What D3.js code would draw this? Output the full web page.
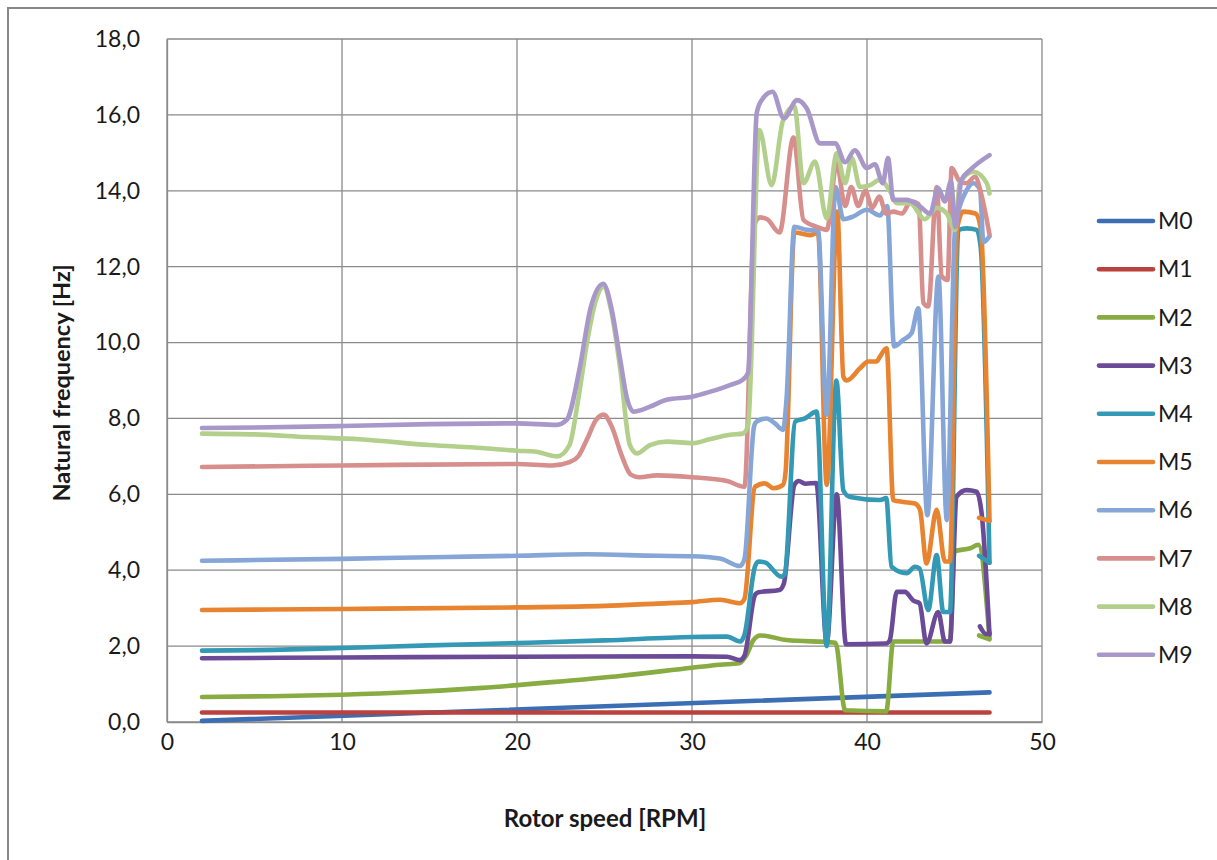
<!DOCTYPE html>
<html>
<head>
<meta charset="utf-8">
<script src="https://cdn.jsdelivr.net/npm/d3@7"></script>
<style>
  body { margin: 0; background: #fff; }
  svg { display: block; font-family: Lato, "Open Sans", sans-serif; }
</style>
</head>
<body>
<div id="graphic"></div>
<script>
// Natural frequency [Hz] vs rotor speed [RPM], points as [rpm, Hz]
const M0 = [[2,0.03],[47,0.78]];
const M1 = [[2,0.25],[47,0.25]];
const M2 = [[2,0.66],[6,0.68],[10,0.72],[14,0.79],[18,0.9],[22,1.05],[26,1.22],[30,1.43],[31.6,1.51],[32.7,1.55],
  [33.1,1.75],[33.5,2.15],[33.9,2.28],[35.4,2.16],[38.2,2.09],[38.75,0.31],[41.1,0.28],[41.5,2.12],[44.74,2.12],
  [45.0,4.5],[45.9,4.58],[46.36,4.67],[47,2.2]];
const M3 = [[2,1.68],[10,1.7],[20,1.72],[30,1.73],[32,1.72],[32.74,1.63],[33.0,1.75],[33.6,3.35],[33.8,3.42],[35.0,3.48],
  [35.25,3.65],[35.85,6.25],[36.1,6.35],[36.5,6.28],[37.1,6.3],[37.7,2.1],[38.27,6.0],[38.8,2.05],[41.1,2.07],[41.3,2.15],
  [41.7,3.43],[42.17,3.43],[42.65,3.2],[43.0,3.13],[43.4,2.07],[44.07,2.9],[44.45,2.12],[44.74,2.12],[45.12,5.94],
  [45.69,6.11],[46.26,6.07],[46.55,5.5],[47,2.3]];
const M4 = [[2,1.88],[6,1.9],[10,1.95],[15,2.02],[20,2.08],[25,2.15],[30,2.24],[32,2.25],[32.74,2.12],[33.0,2.3],
  [33.6,4.1],[33.8,4.23],[34.2,4.2],[35.1,3.83],[35.3,3.9],[35.9,7.92],[36.46,8.0],[37.12,8.18],[37.7,2.0],[38.25,9.0],
  [38.65,6.1],[39.03,5.93],[40.74,5.85],[41.1,5.9],[41.4,4.09],[42.27,3.92],[42.74,4.09],[43.0,4.05],[43.5,2.95],
  [43.98,4.4],[44.36,2.9],[44.74,2.9],[45.22,12.97],[45.7,13.01],[46.27,12.97],[46.5,12.5],[47,4.2]];
const M5 = [[2,2.95],[10,2.98],[20,3.02],[25,3.06],[28,3.12],[30,3.16],[31.6,3.22],[32.74,3.13],[33.0,3.25],[33.6,6.2],
  [34.17,6.29],[34.65,6.16],[35.2,6.25],[35.35,6.6],[35.85,12.9],[36.75,12.83],[37.2,12.9],[37.7,6.25],[38.3,13.45],
  [38.65,9.1],[38.84,9.0],[39.6,9.32],[40.07,9.5],[40.55,9.5],[40.74,9.63],[41.12,9.85],[41.5,5.85],[42.07,5.8],
  [42.74,5.76],[43.03,5.59],[43.4,4.18],[43.98,5.59],[44.45,4.23],[44.74,4.23],[45.15,13.0],[45.5,13.45],[46.2,13.4],
  [46.5,13.0],[47,5.3]];
const M6 = [[2,4.25],[10,4.3],[16,4.35],[20,4.38],[24,4.42],[28,4.38],[30,4.37],[31.6,4.31],[32.74,4.11],[33.0,4.3],
  [33.55,7.8],[33.7,7.92],[34.27,8.0],[34.74,7.87],[35.2,7.7],[35.4,8.5],[35.85,13.05],[36.55,12.97],[37.2,12.95],
  [37.7,8.1],[38.2,14.1],[38.65,13.25],[39.2,13.32],[40.0,13.5],[40.74,13.35],[41.15,13.6],[41.55,9.9],[42.07,10.07],
  [42.55,10.25],[42.93,10.9],[43.45,5.45],[44.08,11.74],[44.56,5.32],[45.03,12.97],[45.7,14.02],[46.08,14.2],
  [46.46,14.02],[46.65,12.65],[47,12.8]];
const M7 = [[2,6.72],[10,6.76],[20,6.8],[22,6.76],[23,6.85],[23.5,7.0],[24,7.45],[24.5,7.95],[24.95,8.1],[25.4,7.8],
  [26,7.0],[26.5,6.52],[27,6.45],[28,6.5],[30,6.45],[32,6.35],[33.0,6.2],[33.55,13.1],[33.9,13.3],[34.3,13.25],
  [35.0,12.9],[35.8,15.4],[36.37,13.23],[37.13,13.05],[37.7,12.97],[38.27,14.72],[38.75,13.6],[39.1,14.1],[39.5,13.6],
  [39.9,14.0],[40.3,13.55],[40.7,13.85],[41.1,13.4],[41.5,13.45],[42,13.4],[42.5,13.72],[42.95,13.65],[43.22,11.05],
  [43.5,10.95],[43.98,14.1],[44.27,11.75],[44.6,11.65],[44.84,14.6],[45.3,14.25],[45.7,14.2],[46.17,14.37],
  [46.56,13.85],[47,12.85]];
const M8 = [[2,7.6],[5,7.58],[8,7.51],[11,7.45],[15,7.3],[18,7.22],[20,7.15],[21,7.13],[22.3,7.0],[23.0,7.3],[23.5,8.5],
  [24,10.0],[24.5,11.1],[24.95,11.47],[25.4,10.8],[25.9,9.3],[26.45,7.3],[26.85,7.08],[27.6,7.3],[28.55,7.39],
  [30.07,7.35],[31,7.45],[32.17,7.57],[32.9,7.6],[33.2,7.8],[33.85,15.6],[34.55,14.15],[35.2,15.85],[35.85,16.22],
  [36.37,14.2],[37.03,14.77],[37.7,13.27],[38.27,14.99],[38.75,14.2],[39.13,14.86],[39.6,14.1],[40.18,14.15],
  [40.74,14.29],[41.3,14.0],[41.7,13.67],[42.46,13.67],[43.3,13.25],[43.98,13.55],[44.56,13.4],[45.03,12.97],
  [45.3,14.2],[46.08,14.5],[46.84,14.2],[47,13.93]];
const M9 = [[2,7.75],[5,7.76],[10,7.8],[15,7.85],[20,7.87],[22.27,7.83],[22.84,7.96],[23.6,9.37],[24.2,10.9],
  [24.93,11.55],[25.4,10.9],[25.9,9.54],[26.3,8.5],[26.65,8.18],[27.6,8.31],[28.55,8.49],[30.07,8.58],[31,8.7],
  [32.17,8.88],[32.9,9.02],[33.2,9.2],[33.7,16.05],[34.0,16.4],[34.6,16.61],[35.25,15.91],[36.0,16.39],[36.56,16.17],
  [37.32,15.25],[38.18,15.25],[38.75,14.75],[39.3,15.07],[40.0,14.6],[40.45,14.7],[40.9,14.2],[41.2,14.86],
  [41.5,13.76],[42.26,13.76],[43.0,13.6],[43.6,13.4],[44.07,14.07],[44.45,13.72],[44.8,14.25],[45.05,13.05],
  [45.4,14.29],[45.9,14.55],[47,14.94]];

// short end pieces that the spreadsheet drew after the last point
const M2tail = [[46.4,2.28],[47,2.18]];
const M3tail = [[46.45,2.52],[46.8,2.32],[47,2.34]];
const M4tail = [[46.4,4.38],[47,4.2]];
const M5tail = [[46.4,5.38],[47,5.3]];

const seriesNames = ["M0","M1","M2","M3","M4","M5","M6","M7","M8","M9"];
const seriesData = [M0, M1, M2, M3, M4, M5, M6, M7, M8, M9];
const seriesColors = ["#3c6eb4","#b9413e","#88ac42","#6b4b98","#3399b5","#e8832f","#86a6d8","#d78f8d","#b3cf8c","#a897c9"];
const tails = [{data: M2tail, s: 2}, {data: M3tail, s: 3}, {data: M4tail, s: 4}, {data: M5tail, s: 5}];

const xTicks = [0, 10, 20, 30, 40, 50];
const yTicks = [0, 2, 4, 6, 8, 10, 12, 14, 16, 18];

// graphic size and plot area
const graphicWidth = 1217;
const graphicHeight = 860;
const plot = {left: 167, top: 39, right: 1042, bottom: 722};

const svg = d3.select("#graphic")
    .append("svg")
    .attr("width", graphicWidth)
    .attr("height", graphicHeight);

// outer chart border
svg.append("rect")
    .attr("x", 8).attr("y", 8)
    .attr("width", 1300).attr("height", 900)
    .attr("fill", "none")
    .attr("stroke", "#878787")
    .attr("stroke-width", 2);

const x = d3.scaleLinear().domain([0, 50]).range([plot.left, plot.right]);
const y = d3.scaleLinear().domain([0, 18]).range([plot.bottom, plot.top]);

const comma = d3.formatLocale({decimal: ",", thousands: ".", grouping: [3], currency: ["", ""]});

// gridlines
svg.append("g")
    .selectAll("line")
    .data(yTicks)
    .join("line")
    .attr("x1", plot.left).attr("x2", plot.right)
    .attr("y1", d => y(d)).attr("y2", d => y(d))
    .attr("stroke", "#8a8a8a").attr("stroke-width", 1.3);
svg.append("g")
    .selectAll("line")
    .data(xTicks)
    .join("line")
    .attr("x1", d => x(d)).attr("x2", d => x(d))
    .attr("y1", plot.top).attr("y2", plot.bottom)
    .attr("stroke", "#8a8a8a").attr("stroke-width", 1.3);

// axes
const yAxis = svg.append("g")
    .attr("transform", "translate(" + plot.left + ",0)")
    .call(d3.axisLeft(y).tickValues(yTicks).tickSize(0).tickPadding(27).tickFormat(comma.format(".1f")));
const xAxis = svg.append("g")
    .attr("transform", "translate(0," + plot.bottom + ")")
    .call(d3.axisBottom(x).tickValues(xTicks).tickSize(0).tickPadding(12).tickFormat(d3.format("d")));
[yAxis, xAxis].forEach(a => {
    a.select(".domain").attr("stroke", "#8a8a8a").attr("stroke-width", 1.3);
    a.selectAll("text").attr("font-size", 23).attr("fill", "#1a1a1a").attr("font-family", "Lato, sans-serif");
});

// series lines
const line = d3.line()
    .curve(d3.curveMonotoneX)
    .x(d => x(d[0]))
    .y(d => y(d[1]));

const lines = svg.append("g")
    .attr("fill", "none")
    .attr("stroke-width", 4.6)
    .attr("stroke-linejoin", "round")
    .attr("stroke-linecap", "round");

lines.selectAll("path.series")
    .data(seriesData)
    .join("path")
    .attr("class", "series")
    .attr("stroke", (d, i) => seriesColors[i])
    .attr("d", line);

lines.selectAll("path.tail")
    .data(tails)
    .join("path")
    .attr("class", "tail")
    .attr("stroke", d => seriesColors[d.s])
    .attr("d", d => line(d.data));

// axis titles
svg.append("text")
    .attr("x", 605).attr("y", 827)
    .attr("text-anchor", "middle")
    .attr("font-size", 24).attr("font-weight", "bold")
    .attr("fill", "#1a1a1a")
    .text("Rotor speed [RPM]");
svg.append("text")
    .attr("transform", "translate(70,383) rotate(-90)")
    .attr("text-anchor", "middle")
    .attr("font-size", 23.5).attr("font-weight", "bold")
    .attr("fill", "#1a1a1a")
    .text("Natural frequency [Hz]");

// legend
const legend = svg.append("g")
    .selectAll("g")
    .data(seriesNames)
    .join("g")
    .attr("transform", (d, i) => "translate(1099," + (221 + i * 48.2) + ")");
legend.append("line")
    .attr("x1", 0).attr("x2", 54)
    .attr("stroke", (d, i) => seriesColors[i])
    .attr("stroke-width", 4.6)
    .attr("stroke-linecap", "round");
legend.append("text")
    .attr("x", 59).attr("dy", "0.36em")
    .attr("font-size", 23)
    .attr("fill", "#1a1a1a")
    .text(d => d);
</script>
</body>
</html>
